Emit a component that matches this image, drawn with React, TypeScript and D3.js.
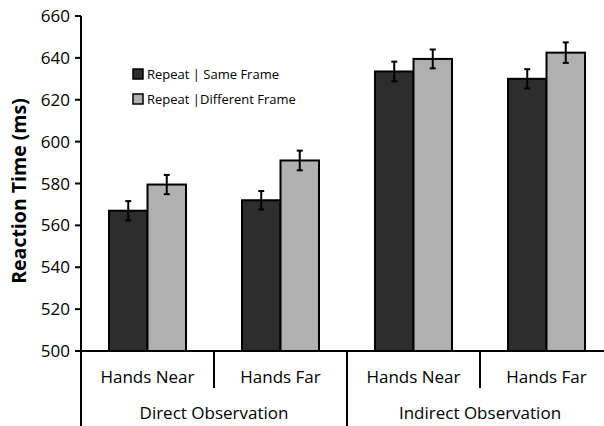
import React from "react";
import * as d3 from "d3";

const categories = ["Hands Near", "Hands Far", "Hands Near", "Hands Far"];
const groups = ["Direct Observation", "Indirect Observation"];
const seriesNames = ["Repeat | Same Frame", "Repeat |Different Frame"];
const sameFrame = [567, 572, 633.5, 630];
const diffFrame = [579.5, 591, 639.5, 642.5];
const sameErr = [4.6, 4.4, 4.7, 4.6];
const diffErr = [4.6, 4.7, 4.5, 4.9];
const yTicks = [500, 520, 540, 560, 580, 600, 620, 640, 660];

const W = 604;
const H = 426;
const FONT = "'Open Sans', sans-serif";
const colors = ["#2d2d2d", "#b0b0b0"];

export default function App() {
  const x0 = d3.scaleBand<number>().domain(d3.range(categories.length)).range([81, 613]).padding(0);
  const x1 = d3
    .scaleBand<number>()
    .domain([0, 1])
    .range([0, x0.bandwidth()])
    .paddingInner(0)
    .paddingOuter(0.727);
  const y = d3.scaleLinear().domain([500, 660]).range([351, 16]);
  const series = [sameFrame, diffFrame];
  const errs = [sameErr, diffErr];
  const base = y(500);

  return (
    <svg width={W} height={H} style={{ position: "absolute", left: 0, top: 0, background: "#fff" }} fontFamily={FONT}>
      <rect x={0} y={0} width={W} height={H} fill="#fff" />
      {/* bars */}
      {categories.map((c, i) =>
        series.map((s, j) => {
          const bx = (x0(i) as number) + (x1(j) as number);
          const by = y(s[i]);
          return (
            <rect
              key={`b${i}-${j}`}
              x={bx}
              y={by}
              width={x1.bandwidth()}
              height={base - by}
              fill={colors[j]}
              stroke="#000"
              strokeWidth={2}
            />
          );
        })
      )}
      {/* error bars */}
      {categories.map((c, i) =>
        series.map((s, j) => {
          const cx = (x0(i) as number) + (x1(j) as number) + x1.bandwidth() / 2;
          const t = y(s[i] + errs[j][i]);
          const b = y(s[i] - errs[j][i]);
          return (
            <g key={`e${i}-${j}`} stroke="#000" strokeWidth={2}>
              <line x1={cx} x2={cx} y1={t} y2={b} />
              <line x1={cx - 3} x2={cx + 3} y1={t} y2={t} />
              <line x1={cx - 3} x2={cx + 3} y1={b} y2={b} />
            </g>
          );
        })
      )}
      {/* y axis */}
      <line x1={81} x2={81} y1={y(660)} y2={H} stroke="#000" strokeWidth={2} />
      {yTicks.map((t) => (
        <g key={t}>
          <line x1={75} x2={81} y1={y(t)} y2={y(t)} stroke="#000" strokeWidth={2} />
          <text x={70} y={y(t)} dy="0.36em" textAnchor="end" fontSize={17} fill="#000">
            {t}
          </text>
        </g>
      ))}
      <text
        transform={`translate(26, 191) rotate(-90)`}
        textAnchor="middle"
        fontSize={19.5}
        fontWeight="bold"
        fill="#000"
      >
        Reaction Time (ms)
      </text>
      {/* baseline */}
      <line x1={75} x2={W} y1={base} y2={base} stroke="#000" strokeWidth={2} />
      {/* category separators */}
      {d3.range(1, categories.length).map((i) => (
        <line
          key={`s${i}`}
          x1={x0(i) as number}
          x2={x0(i) as number}
          y1={base}
          y2={i % 2 === 0 ? H : 388}
          stroke="#000"
          strokeWidth={2}
        />
      ))}
      {categories.map((c, i) => (
        <text
          key={`c${i}`}
          x={(x0(i) as number) + x0.bandwidth() / 2}
          y={383}
          textAnchor="middle"
          fontSize={17}
          fill="#000"
        >
          {c}
        </text>
      ))}
      {groups.map((g, k) => (
        <text
          key={`g${k}`}
          x={(x0(k * 2) as number) + x0.bandwidth()}
          y={419}
          textAnchor="middle"
          fontSize={17}
          fill="#000"
        >
          {g}
        </text>
      ))}
      {/* legend */}
      {seriesNames.map((n, j) => (
        <g key={`l${j}`} transform={`translate(133, ${69 + j * 25})`}>
          <rect x={0} y={0} width={10} height={10} fill={colors[j]} stroke="#000" strokeWidth={1.5} />
          <text x={14} y={5} dy="0.36em" fontSize={13} fill="#000">
            {n}
          </text>
        </g>
      ))}
    </svg>
  );
}
